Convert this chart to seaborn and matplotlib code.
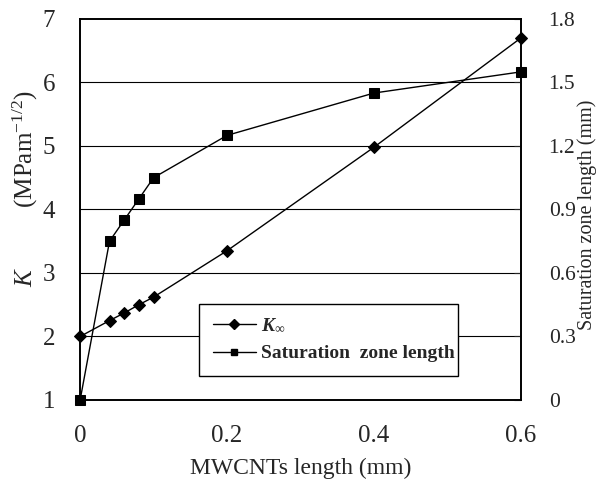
import pandas as pd
import seaborn as sns
import matplotlib.pyplot as plt
from matplotlib.lines import Line2D

# values
length_mm = [0.0, 0.04, 0.06, 0.08, 0.10, 0.20, 0.40, 0.60]
k_inf = [2.0, 2.25, 2.37, 2.50, 2.62, 3.35, 4.98, 6.70]
saturation_mm = [0.0, 0.75, 0.85, 0.95, 1.05, 1.25, 1.45, 1.55]

x_ticks = [0, 0.2, 0.4, 0.6]
x_tick_labels = ['0', '0.2', '0.4', '0.6']
k_ticks = [1, 2, 3, 4, 5, 6, 7]
sat_ticks = [0, 0.3, 0.6, 0.9, 1.2, 1.5, 1.8]
sat_tick_labels = ['0', '0.3', '0.6', '0.9', '1.2', '1.5', '1.8']

df = pd.DataFrame({'length': length_mm, 'K': k_inf, 'sat': saturation_mm})

sns.set_style('white')
plt.rcParams['font.family'] = ['Liberation Serif', 'DejaVu Serif']
plt.rcParams['mathtext.fontset'] = 'custom'
plt.rcParams['mathtext.it'] = 'Liberation Serif:italic'
plt.rcParams['mathtext.rm'] = 'Liberation Serif'
plt.rcParams['mathtext.bf'] = 'Liberation Serif:bold:italic'

fig = plt.figure(figsize=(5.98, 4.86), dpi=100)
ax = fig.add_axes([0.134, 0.177, 0.737, 0.784])
ax2 = ax.twinx()

sns.lineplot(data=df, x='length', y='K', ax=ax, color='black', lw=1,
             marker='D', markersize=6, markeredgecolor='black', clip_on=False)
sns.lineplot(data=df, x='length', y='sat', ax=ax2, color='black', lw=1,
             marker='s', markersize=7, markeredgecolor='black', clip_on=False)

ax.set_xlim(0, 0.6)
ax.set_ylim(1, 7)
ax2.set_ylim(0, 1.8)
ax.set_xticks(x_ticks)
ax.set_xticklabels(x_tick_labels)
ax.set_yticks(k_ticks)
ax2.set_yticks(sat_ticks)
ax2.set_yticklabels(sat_tick_labels)

for y in k_ticks[1:-1]:
    ax.axhline(y, color='black', lw=0.8, zorder=0)

ax.tick_params(axis='x', direction='in', length=5, width=0.8, pad=18, labelsize=18)
ax.tick_params(axis='y', length=0, pad=18, labelsize=18)
ax2.tick_params(axis='y', direction='in', length=5, width=0.8, pad=20, labelsize=15.5)

for a in (ax, ax2):
    for s in a.spines.values():
        s.set_color('black')
        s.set_linewidth(1.2)

ax.set_xlabel('MWCNTs length (mm)', fontsize=17, labelpad=8)
ax.set_ylabel(r'$K$' + ' ' * 10 + r'(MPam$^{\mathrm{-1/2}}$)', fontsize=18)
ax.yaxis.set_label_coords(-0.091, 0.556)
ax2.set_ylabel('Saturation zone length (mm)', fontsize=14.5)
ax2.yaxis.set_label_coords(1.127, 0.486)

handles = [
    Line2D([], [], color='black', lw=1, marker='D', markersize=5),
    Line2D([], [], color='black', lw=1, marker='s', markersize=5),
]
leg = ax2.legend(handles, [r'$\mathbf{K_\infty}$', 'Saturation  zone length'],
                 loc='lower left', bbox_to_anchor=(0.27, 0.063, 0.587, 0.22),
                 mode='expand', fancybox=False, framealpha=1, edgecolor='black',
                 fontsize=14, handlelength=2.2, handletextpad=0.3,
                 labelspacing=0.5, borderpad=0.7, borderaxespad=0)
leg.get_frame().set_linewidth(1)
for t in leg.get_texts():
    t.set_fontweight('bold')

fig.savefig('out.png', dpi=100)
